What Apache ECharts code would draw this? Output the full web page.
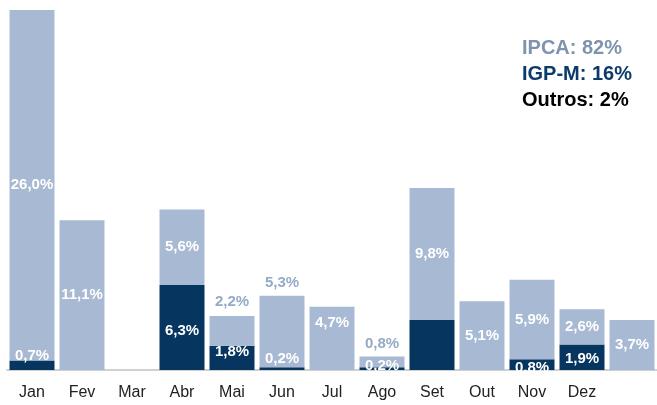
<!DOCTYPE html>
<html>
<head>
<meta charset="utf-8">
<script src="https://cdn.jsdelivr.net/npm/echarts@6/dist/echarts.min.js"></script>
<style>
html,body{margin:0;padding:0;background:#fff;}
#chart{width:657px;height:405px;}
</style>
</head>
<body>
<div id="chart"></div>
<script>
// meses (a 13a barra nao tem rotulo)
const months = ['Jan','Fev','Mar','Abr','Mai','Jun','Jul','Ago','Set','Out','Nov','Dez',''];
// IGP-M (parte escura, embaixo)
const igpm = [0.7, 0, 0, 6.3, 1.8, 0.2, 0, 0.2, 3.7, 0, 0.8, 1.9, 0];
// IPCA (parte clara, em cima)
const ipca = [26.0, 11.1, 0, 5.6, 2.2, 5.3, 4.7, 0.8, 9.8, 5.1, 5.9, 2.6, 3.7];
// resumo no canto
const legendLines = ['IPCA: 82%', 'IGP-M: 16%', 'Outros: 2%'];

const C_LIGHT = '#a7b9d3', C_DARK = '#06355f', C_LBL = '#95aac6';
const topIpca = ['Mai','Jun','Ago'];   // rotulo acima da barra
const topIgpm = ['Jun'];                // rotulo acima do segmento escuro
const noLabel = ['Set'];                // IGP-M sem rotulo
// ajustes finos de rotulo
const shiftIpca = {Jul: -15, Mai: -2};
const shiftIgpm = {Jan: -9, Mai: -6, Abr: 3, Ago: -3, Nov: 3, Dez: 2};

function fmt(v){ return v.toFixed(1).replace('.', ',') + '%'; }

function mkData(vals, name){
    return vals.map(function(v, i){
        let m = months[i];
        let d = {value: v, label: {}};
        let sh = (name === 'ipca' ? shiftIpca : shiftIgpm)[m];
        if(sh) d.label.offset = [0, sh];
        if(!v || (name === 'igpm' && noLabel.indexOf(m) >= 0)){
            d.label.show = false;
        }else if(name === 'ipca' && topIpca.indexOf(m) >= 0){
            Object.assign(d.label, {position: 'top', color: C_LBL, distance: 5});
        }else if(name === 'igpm' && topIgpm.indexOf(m) >= 0){
            Object.assign(d.label, {position: 'top', distance: 1});
        }
        return d;
    });
}

const lblStyle = {
    show: true,
    position: 'inside',
    color: '#fff',
    fontFamily: 'Liberation Sans, Arial, sans-serif',
    fontWeight: 'bold',
    fontSize: 15,
    formatter: function(p){ return fmt(p.value); }
};

let chart = echarts.init(document.getElementById('chart'));
chart.setOption({
    animation: false,
    grid: {left: 7, right: -6, top: 6, bottom: 35},
    xAxis: {
        type: 'category',
        data: months,
        axisLine: {lineStyle: {color: '#d0d0d0', width: 2}},
        axisTick: {show: false},
        axisLabel: {color: '#222', fontSize: 16, margin: 15, fontFamily: 'Liberation Sans, Arial, sans-serif'}
    },
    yAxis: {
        type: 'value', min: 0, max: 27,
        show: false
    },
    series: [
        {
            name: 'IGP-M', type: 'bar', stack: 'a',
            barCategoryGap: '10%',
            itemStyle: {color: C_DARK},
            label: lblStyle,
            data: mkData(igpm, 'igpm')
        },
        {
            name: 'IPCA', type: 'bar', stack: 'a',
            barCategoryGap: '10%',
            itemStyle: {color: C_LIGHT},
            label: lblStyle,
            data: mkData(ipca, 'ipca')
        }
    ],
    graphic: legendLines.map(function(t, i){
        return {
            type: 'text', left: 522, top: 38 + i * 26,
            style: {
                text: t,
                fill: ['#7f93ae', '#0b3a6b', '#000'][i],
                font: 'bold 20px Liberation Sans, Arial, sans-serif'
            }
        };
    })
});
</script>
</body>
</html>
